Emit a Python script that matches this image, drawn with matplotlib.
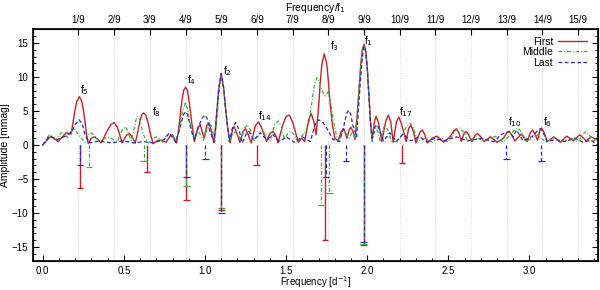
#!/usr/bin/env python3
"""Amplitude spectra of the First / Middle / Last subsets with detected peaks."""
import matplotlib
matplotlib.use("Agg")
import matplotlib.pyplot as plt
from matplotlib.ticker import MultipleLocator

plt.rcParams["font.family"] = ["Liberation Sans", "DejaVu Sans"]

F1 = 1.98  # main frequency [1/d], top axis is in units of f1/9

# spectra
freq_first = [0.00, 0.05, 0.095, 0.145, 0.175, 0.19, 0.20, 0.21, 0.226, 0.24,
              0.25, 0.26, 0.27, 0.28, 0.30, 0.32, 0.34, 0.36, 0.40, 0.42,
              0.44, 0.46, 0.49, 0.515, 0.535, 0.55, 0.57, 0.585, 0.60, 0.612,
              0.622, 0.635, 0.65, 0.665, 0.68, 0.71, 0.73, 0.76, 0.785, 0.80,
              0.825, 0.84, 0.855, 0.868, 0.88, 0.892, 0.905, 0.92, 0.935, 0.955,
              0.97, 0.995, 1.012, 1.025, 1.04, 1.055, 1.065, 1.075, 1.085, 1.10,
              1.115, 1.125, 1.14, 1.155, 1.17, 1.18, 1.195, 1.215, 1.235, 1.25,
              1.265, 1.285, 1.31, 1.33, 1.35, 1.38, 1.40, 1.42, 1.44, 1.45,
              1.48, 1.50, 1.52, 1.54, 1.575, 1.595, 1.615, 1.64, 1.655, 1.67,
              1.685, 1.70, 1.71, 1.72, 1.735, 1.75, 1.76, 1.77, 1.785, 1.80,
              1.82, 1.84, 1.855, 1.875, 1.89, 1.90, 1.912, 1.925, 1.94, 1.95,
              1.96, 1.97, 1.98, 1.99, 2.00, 2.01, 2.02, 2.03, 2.045, 2.055,
              2.07, 2.09, 2.115, 2.13, 2.145, 2.16, 2.18, 2.195, 2.21, 2.24,
              2.255, 2.27, 2.285, 2.30, 2.325, 2.34, 2.355, 2.37, 2.40, 2.43,
              2.45, 2.47, 2.51, 2.535, 2.55, 2.565, 2.58, 2.595, 2.61, 2.625,
              2.645, 2.665, 2.68, 2.70, 2.72, 2.76, 2.80, 2.84, 2.86, 2.875,
              2.89, 2.91, 2.95, 2.985, 3.005, 3.02, 3.035, 3.05, 3.065, 3.075,
              3.09, 3.11, 3.15, 3.19, 3.23, 3.27, 3.31, 3.35, 3.38, 3.42]
amp_first = [0.0, 1.3, 0.5, 1.8, 1.6, 3.8, 5.3, 6.4, 7.1, 6.5,
             5.2, 3.5, 1.5, 0.25, 1.0, 1.2, 0.8, 0.3, 2.2, 3.0,
             3.3, 2.6, 0.3, 1.4, 1.7, 1.2, 0.3, 1.8, 3.6, 4.5,
             4.7, 4.4, 3.2, 1.5, 0.2, 0.7, 0.7, 0.4, 1.3, 1.5,
             0.3, 2.8, 6.0, 8.0, 8.5, 8.0, 6.0, 3.0, 0.5, 2.5,
             3.0, 1.0, 2.9, 3.2, 2.0, 0.3, 2.5, 5.5, 8.3, 10.5,
             8.4, 5.8, 2.5, 0.3, 2.3, 2.7, 1.8, 0.4, 2.0, 2.4,
             1.6, 0.3, 2.8, 3.4, 2.5, 0.5, 1.7, 2.0, 1.2, 0.3,
             3.0, 4.2, 4.4, 3.4, 0.4, 1.0, 0.5, 3.8, 4.6, 3.5,
             1.5, 5.5, 9.0, 11.8, 13.4, 12.0, 9.5, 6.5, 3.0, 1.0,
             0.6, 2.0, 2.4, 1.0, 2.3, 2.6, 2.0, 0.8, 5.0, 8.5,
             11.8, 14.0, 14.8, 14.0, 11.5, 7.5, 3.5, 0.7, 3.5, 4.2,
             3.2, 0.5, 3.6, 4.4, 3.4, 0.4, 3.4, 4.1, 3.2, 0.5,
             2.4, 2.9, 2.0, 0.3, 1.9, 2.2, 1.5, 0.3, 1.0, 1.3,
             0.9, 0.4, 1.2, 2.1, 2.4, 1.8, 0.5, 1.6, 2.0, 1.5,
             0.5, 1.4, 1.7, 1.2, 0.5, 1.2, 0.4, 1.0, 1.8, 2.0,
             1.5, 0.6, 1.6, 0.5, 1.8, 2.2, 1.5, 0.7, 2.2, 2.5,
             1.8, 0.5, 1.2, 0.4, 1.3, 0.6, 1.5, 0.6, 1.2, 0.7]

freq_middle = [0.00, 0.04, 0.08, 0.12, 0.155, 0.175, 0.19, 0.205, 0.225, 0.26,
               0.285, 0.30, 0.32, 0.35, 0.40, 0.46, 0.49, 0.51, 0.525, 0.545,
               0.56, 0.575, 0.585, 0.60, 0.62, 0.65, 0.68, 0.70, 0.72, 0.74,
               0.76, 0.78, 0.80, 0.82, 0.845, 0.86, 0.88, 0.895, 0.91, 0.93,
               0.96, 0.99, 1.015, 1.035, 1.05, 1.06, 1.07, 1.08, 1.09, 1.10,
               1.115, 1.125, 1.14, 1.15, 1.175, 1.19, 1.205, 1.22, 1.245, 1.26,
               1.28, 1.30, 1.34, 1.36, 1.38, 1.40, 1.43, 1.45, 1.47, 1.49,
               1.51, 1.53, 1.55, 1.57, 1.61, 1.64, 1.66, 1.675, 1.69, 1.705,
               1.72, 1.74, 1.76, 1.78, 1.80, 1.82, 1.845, 1.86, 1.875, 1.89,
               1.905, 1.915, 1.925, 1.94, 1.95, 1.96, 1.97, 1.98, 1.99, 2.00,
               2.01, 2.02, 2.03, 2.045, 2.055, 2.065, 2.08, 2.10, 2.11, 2.125,
               2.15, 2.19, 2.24, 2.265, 2.285, 2.31, 2.36, 2.40, 2.45, 2.50,
               2.54, 2.57, 2.595, 2.62, 2.67, 2.72, 2.79, 2.84, 2.90, 2.93,
               2.955, 2.98, 3.05, 3.10, 3.15, 3.20, 3.26, 3.30, 3.33, 3.35,
               3.37, 3.39, 3.42]
amp_middle = [0.0, 1.5, 0.9, 1.9, 1.1, 2.0, 2.4, 2.0, 1.4, 0.4,
              1.6, 1.8, 1.3, 0.5, 1.2, 0.5, 2.2, 2.7, 2.0, 0.6,
              2.0, 3.7, 4.2, 3.6, 1.5, 0.3, 1.0, 1.2, 0.9, 0.4,
              1.3, 1.6, 1.2, 0.5, 2.5, 4.8, 6.3, 5.0, 3.0, 1.0,
              2.0, 0.7, 2.5, 3.0, 1.8, 0.5, 2.8, 5.8, 8.6, 10.2,
              8.3, 5.6, 2.5, 0.5, 1.7, 2.0, 1.5, 0.7, 2.5, 3.0,
              2.2, 0.6, 1.7, 2.0, 1.4, 0.5, 3.0, 3.5, 2.7, 0.8,
              1.7, 2.0, 1.5, 0.5, 1.7, 3.0, 6.5, 8.8, 9.9, 9.3,
              8.0, 7.2, 7.8, 5.5, 2.5, 0.5, 1.7, 2.0, 1.5, 1.0,
              1.8, 2.0, 0.8, 4.8, 8.3, 11.6, 13.8, 14.6, 13.8, 11.3,
              7.3, 3.3, 0.5, 2.0, 2.5, 2.0, 0.5, 2.5, 3.0, 2.3,
              0.5, 0.5, 2.6, 3.2, 2.5, 0.5, 1.0, 0.4, 1.0, 0.4,
              2.0, 2.5, 1.9, 0.5, 1.2, 0.5, 1.3, 0.4, 2.0, 2.5,
              1.8, 0.5, 1.5, 0.4, 1.0, 0.4, 1.0, 0.5, 1.6, 2.0,
              1.4, 0.4, 1.2]

freq_last = [0.00, 0.04, 0.09, 0.14, 0.18, 0.20, 0.225, 0.245, 0.26, 0.29,
             0.35, 0.42, 0.50, 0.56, 0.62, 0.68, 0.75, 0.78, 0.82, 0.84,
             0.855, 0.868, 0.88, 0.892, 0.905, 0.92, 0.935, 0.96, 0.98, 1.00,
             1.015, 1.03, 1.055, 1.065, 1.075, 1.085, 1.10, 1.115, 1.125, 1.14,
             1.15, 1.17, 1.19, 1.21, 1.23, 1.255, 1.27, 1.285, 1.30, 1.34,
             1.38, 1.42, 1.46, 1.50, 1.55, 1.60, 1.65, 1.675, 1.70, 1.725,
             1.75, 1.79, 1.83, 1.85, 1.865, 1.877, 1.887, 1.90, 1.91, 1.935,
             1.945, 1.955, 1.965, 1.975, 1.98, 1.99, 2.00, 2.01, 2.02, 2.03,
             2.045, 2.06, 2.08, 2.10, 2.14, 2.18, 2.22, 2.27, 2.32, 2.37,
             2.42, 2.47, 2.55, 2.62, 2.70, 2.78, 2.83, 2.875, 2.90, 2.92,
             2.96, 3.02, 3.045, 3.065, 3.085, 3.11, 3.16, 3.22, 3.28, 3.33,
             3.38, 3.42]
amp_last = [0.0, 1.3, 0.8, 1.3, 2.0, 3.0, 3.7, 3.0, 1.5, 0.3,
            0.6, 0.3, 0.6, 0.3, 0.5, 0.3, 0.8, 1.8, 0.4, 2.0,
            3.4, 4.5, 4.9, 4.5, 3.2, 1.8, 0.8, 2.6, 3.9, 4.4,
            3.8, 2.0, 0.5, 2.5, 5.5, 8.3, 10.5, 8.4, 5.8, 2.5,
            0.5, 2.6, 3.3, 2.2, 0.3, 1.7, 2.0, 1.5, 0.7, 1.8,
            0.8, 1.5, 0.5, 1.2, 0.4, 1.2, 0.5, 2.8, 3.7, 3.4,
            2.5, 0.8, 0.5, 2.2, 3.8, 4.8, 5.1, 4.4, 3.0, 1.2,
            5.0, 8.3, 11.6, 14.0, 14.5, 13.8, 11.3, 7.3, 3.3, 1.0,
            2.5, 3.0, 2.0, 0.6, 1.8, 0.5, 1.6, 0.6, 1.2, 0.5,
            1.0, 0.6, 1.2, 0.6, 1.0, 0.5, 1.6, 2.0, 1.2, 2.2,
            0.6, 1.3, 2.0, 2.4, 1.8, 0.5, 0.8, 0.5, 1.0, 0.4,
            0.7, 0.0]

# detected frequencies, drawn downwards from zero
peaks_first_freq = [0.230, 0.643, 0.885, 1.101, 1.318, 1.741, 1.978, 2.215]
peaks_first_amp = [6.3, 4.0, 8.1, 9.5, 3.0, 13.9, 14.7, 2.7]
peaks_middle_freq = [0.284, 0.622, 0.885, 1.101, 1.714, 1.767, 1.978]
peaks_middle_amp = [3.3, 2.3, 6.0, 9.3, 8.8, 7.0, 14.5]
peaks_last_freq = [0.230, 0.885, 1.003, 1.101, 1.746, 1.870, 1.978, 2.858, 3.074]
peaks_last_amp = [2.9, 4.75, 2.0, 10.0, 4.75, 2.3, 14.3, 2.06, 2.3]

# peak names and where they are written
label_text = ["f$_5$", "f$_8$", "f$_4$", "f$_2$", "f$_{14}$", "f$_3$", "f$_1$",
              "f$_{17}$", "f$_{10}$", "f$_6$"]
label_x = [0.26, 0.70, 0.92, 1.14, 1.37, 1.80, 2.01, 2.24, 2.91, 3.11]
label_y = [8.1, 4.9, 9.6, 10.8, 4.2, 14.5, 15.3, 4.9, 3.4, 3.4]

top_ticks = list(range(1, 16))

RED, GREEN, BLUE = "#c8202a", "#3cb43c", "#2a2ac8"
STYLES = [
    ("First", freq_first, amp_first, peaks_first_freq, peaks_first_amp,
     RED, "-", 1.0),
    ("Middle", freq_middle, amp_middle, peaks_middle_freq, peaks_middle_amp,
     GREEN, (0, (3, 1.5, 0.8, 1.5)), 0.9),
    ("Last", freq_last, amp_last, peaks_last_freq, peaks_last_amp,
     BLUE, (0, (3, 2)), 0.9),
]

fig = plt.figure(figsize=(6.0, 2.9), dpi=100)
ax = fig.add_axes([0.055, 0.101, 0.941, 0.798])

for k in top_ticks:
    ax.axvline(k * F1 / 9, color="#c8c8c8", lw=0.6, ls=(0, (1, 2)), zorder=0)

cap = 0.02
for name, fx, fa, px, pa, col, ls, lw in STYLES:
    ax.plot(fx, fa, color=col, ls=ls, lw=lw, label=name)
    neg = [-a for a in pa]
    ax.vlines(px, 0, neg, color=col, ls=ls, lw=lw)
    ax.hlines(neg, [x - cap for x in px], [x + cap for x in px],
              color=col, lw=lw)

for t, x, y in zip(label_text, label_x, label_y):
    ax.text(x, y, t, fontsize=7.5, ha="center", va="center")

ax.set_xlim(-0.06, 3.42)
ax.set_ylim(-17, 17)
ax.xaxis.set_major_locator(MultipleLocator(0.5))
ax.xaxis.set_minor_locator(MultipleLocator(0.1))
ax.yaxis.set_major_locator(MultipleLocator(5))
ax.yaxis.set_minor_locator(MultipleLocator(1))
ax.xaxis.set_major_formatter(plt.FuncFormatter(lambda v, p: f"{v:.1f}"))
ax.tick_params(which="both", direction="in", labelsize=7, right=True, top=False)
ax.tick_params(which="major", length=4)
ax.tick_params(which="minor", length=2)
ax.set_xlabel("Frequency [d$^{-1}$]", fontsize=7)
ax.xaxis.set_label_coords(0.5, -0.058)
ax.set_ylabel("Amplitude [mmag]", fontsize=7.5, labelpad=1)
for s in ax.spines.values():
    s.set_linewidth(1.2)

top = ax.twiny()
top.set_xlim(ax.get_xlim())
top.set_xticks([k * F1 / 9 for k in top_ticks])
top.set_xticklabels([f"{k}/9" for k in top_ticks])
top.tick_params(direction="in", labelsize=7, length=4, pad=3)
top.set_xlabel("Frequency/f$_1$", fontsize=7.5, labelpad=3)

ax.legend(loc="upper right", bbox_to_anchor=(0.995, 1.0), frameon=False,
          markerfirst=False, fontsize=7.5, handlelength=2.8, labelspacing=0.05,
          borderaxespad=0.3, handletextpad=0.5)

fig.savefig("out.png", dpi=100)
